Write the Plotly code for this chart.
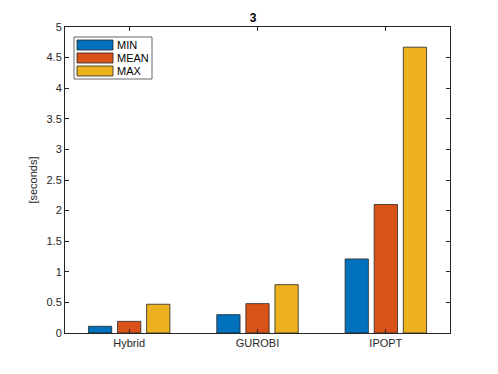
import plotly.graph_objects as go

# solver timings in seconds
solvers = ["Hybrid", "GUROBI", "IPOPT"]
t_min = [0.11, 0.30, 1.21]
t_mean = [0.19, 0.48, 2.10]
t_max = [0.47, 0.79, 4.67]

series = [("MIN", t_min, "#0072BD"), ("MEAN", t_mean, "#D95319"), ("MAX", t_max, "#EDB120")]

# page has an 8px body margin, so the figure is a bit smaller than the window
W, H = 490, 366
L, T, PW, PH = 57, 19, 385, 306

fig = go.Figure()
for name, vals, col in series:
    fig.add_trace(go.Bar(x=[1, 2, 3], y=vals, name=name, marker_color=col,
                         marker_line_color="#262626", marker_line_width=0.8, showlegend=False))

axis_style = dict(showline=True, linecolor="#262626", linewidth=1, mirror="ticks",
                  ticks="inside", ticklen=4, tickcolor="#262626", showgrid=False, zeroline=False,
                  tickfont=dict(size=11, color="#262626"))


# legend drawn by hand (matlab style wide swatches), pixel positions inside plot area
def px(x):
    return x / PW


def py(y):
    return 1 - y / PH


shapes = [dict(type="rect", xref="paper", yref="paper", x0=px(9), x1=px(87), y0=py(10), y1=py(52),
               line=dict(color="#262626", width=0.7), fillcolor="white")]
annots = []
for i, (name, vals, col) in enumerate(series):
    y0 = 13 + i * 13
    shapes.append(dict(type="rect", xref="paper", yref="paper", x0=px(12), x1=px(48),
                       y0=py(y0), y1=py(y0 + 10), line=dict(color="#262626", width=0.8), fillcolor=col))
    annots.append(dict(text=name, xref="paper", yref="paper", x=px(50), y=py(y0 + 5),
                       xanchor="left", yanchor="middle", showarrow=False,
                       font=dict(size=11, color="black")))

fig.update_layout(
    width=W, height=H,
    margin=dict(l=L, r=W - L - PW, t=T, b=H - T - PH),
    paper_bgcolor="white", plot_bgcolor="white",
    font=dict(family="Liberation Sans, Arial, sans-serif", size=11, color="#262626"),
    barmode="group", bargap=0.32, bargroupgap=0.2,
    title=dict(text="<b>3</b>", x=0.5, xanchor="center", y=1 - 10 / H, yanchor="middle",
               font=dict(size=12, color="black")),
    shapes=shapes, annotations=annots,
)
fig.update_xaxes(range=[0.5, 3.5], tickvals=[1, 2, 3], ticktext=solvers, **axis_style)
fig.update_yaxes(range=[0, 5], dtick=0.5, title=dict(text="[seconds]", standoff=6,
                 font=dict(size=11, color="#262626")), **axis_style)

fig.write_html("out.html")
